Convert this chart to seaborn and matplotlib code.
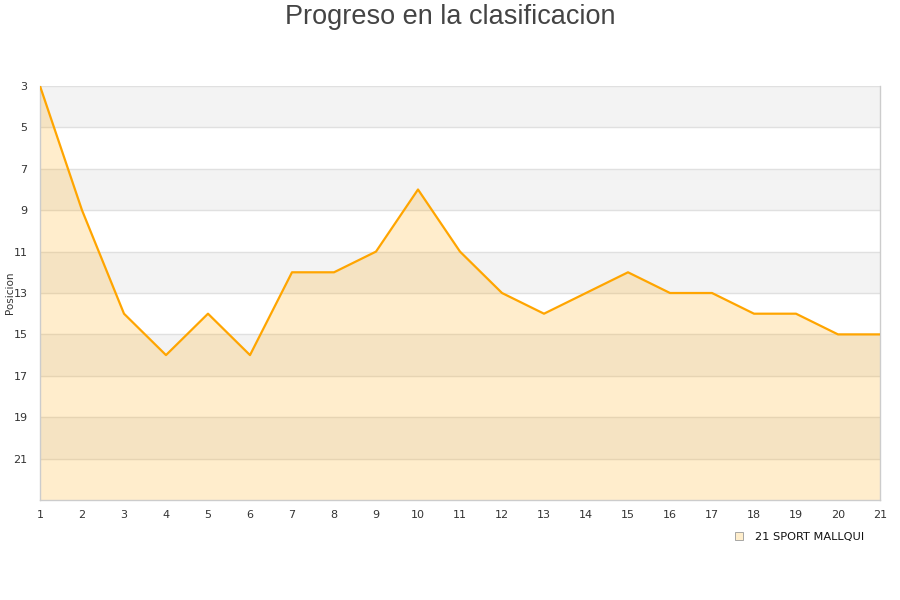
import pandas as pd
import matplotlib
matplotlib.use("Agg")
import matplotlib.pyplot as plt
import seaborn as sns
from matplotlib.lines import Line2D

# datos de la clasificacion por jornada
jornadas = list(range(1, 22))
posiciones = [3, 9, 14, 16, 14, 16, 12, 12, 11, 8, 11, 13, 14, 13, 12, 13, 13, 14, 14, 15, 15]
equipo = "21 SPORT MALLQUI"
y_ticks = [3, 5, 7, 9, 11, 13, 15, 17, 19, 21]

data = pd.DataFrame({"Jornada": jornadas, "Posicion": posiciones})

sns.set_style("white")
plt.rcParams['font.family'] = ['DejaVu Sans']

fig = plt.figure(figsize=(9, 6), dpi=100)
ax = fig.add_axes([40/900, 100/600, 840/900, 414/600])

# bandas alternas de fondo
for lo in range(3, 23, 4):
    ax.axhspan(lo, lo + 2, color='#f3f3f3', zorder=0, lw=0)
for yv in y_ticks:
    ax.axhline(yv, color='#e0e0e0', lw=1, zorder=1)

ax.fill_between(data["Jornada"], data["Posicion"], 23, color='orange', alpha=0.2, lw=0, zorder=2)
sns.lineplot(data=data, x="Jornada", y="Posicion", color='#ffa500', lw=1.6, ax=ax, zorder=3)

ax.set_xlim(1, 21)
ax.set_ylim(23, 3)
ax.set_xticks(jornadas)
ax.set_yticks(y_ticks)
ax.tick_params(axis='both', length=0, labelsize=8, colors='#333333')
ax.tick_params(axis='x', pad=7)
ax.tick_params(axis='y', pad=9)
ax.set_xlabel("")
ax.set_ylabel("Posicion", fontsize=7.5, color='#333333', labelpad=0)
ax.yaxis.set_label_coords(-0.03, 0.5)
for s in ax.spines.values():
    s.set_color('#cccccc')
    s.set_linewidth(1)
ax.spines['top'].set_visible(False)

fig.suptitle("Progreso en la clasificacion", fontsize=19.5, color='#444444',
             family=['Liberation Sans', 'DejaVu Sans'], y=0.993)

handle = Line2D([], [], marker='s', ls='none', markersize=6,
                markerfacecolor='#ffeecc', markeredgecolor='#999999', markeredgewidth=0.6)
leg = fig.legend([handle], [equipo], loc='center left', bbox_to_anchor=(722/900, 1 - 537/600),
                 frameon=False, fontsize=8.2, handletextpad=0.4, borderpad=0)
for t in leg.get_texts():
    t.set_color('#111111')

plt.savefig("out.png", dpi=100)
